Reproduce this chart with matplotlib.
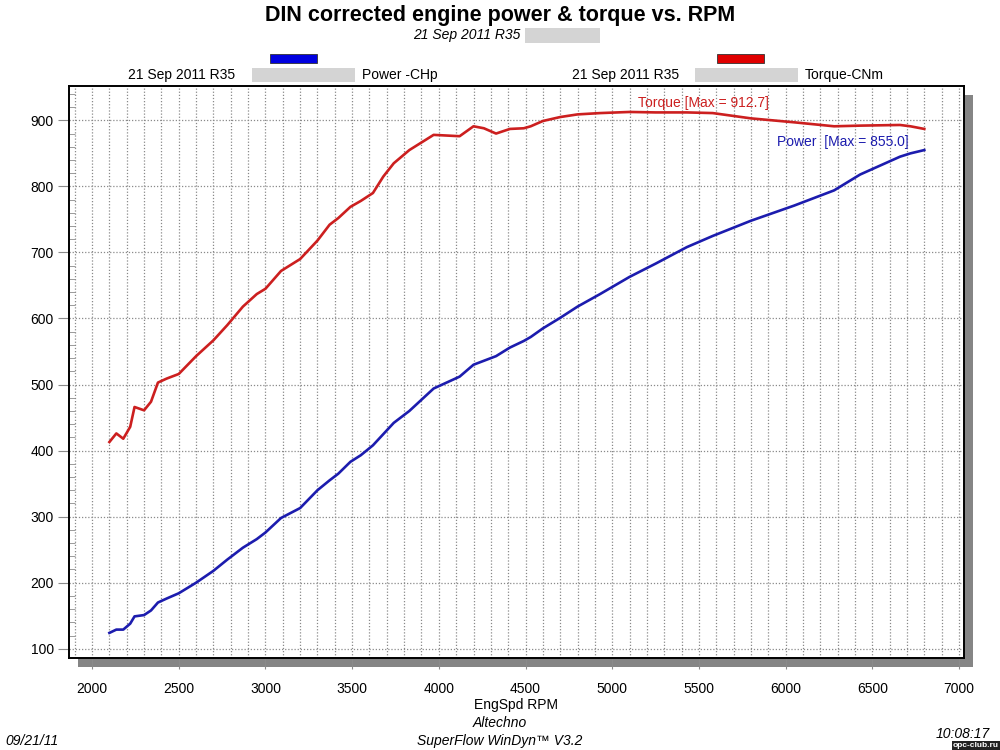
import matplotlib
matplotlib.use('Agg')
import matplotlib.pyplot as plt
from matplotlib.patches import Rectangle
from matplotlib.ticker import MultipleLocator

plt.rcParams['font.family'] = ['Liberation Sans', 'DejaVu Sans']

# Data
rpm = [2100, 2140, 2180, 2220, 2245, 2300, 2340, 2380, 2430, 2500,
       2600, 2700, 2780, 2870, 2950, 3000, 3090, 3200, 3300, 3370,
       3420, 3490, 3550, 3620, 3680, 3740, 3830, 3970, 4120, 4200,
       4260, 4330, 4410, 4490, 4530, 4600, 4700, 4800, 4930, 5100,
       5250, 5430, 5580, 5800, 6050, 6280, 6430, 6660, 6720, 6800]
torque = [413, 426, 418, 436, 466, 461, 474, 503, 509, 516,
          543, 567, 590, 618, 637, 645, 672, 690, 718, 742,
          752, 769, 778, 790, 815, 835, 855, 878, 876, 891,
          888, 880, 887, 888, 891, 899, 905, 909, 911, 912.7,
          912, 912, 911, 903, 897, 891, 892, 893, 891, 887]
power = [124, 129, 129, 138, 149, 151, 158, 170, 176, 184,
         200, 218, 235, 253, 266, 276, 298, 313, 340, 355,
         365, 383, 393, 408, 425, 442, 460, 494, 512, 530,
         536, 543, 556, 566, 572, 585, 601, 618, 637, 663,
         683, 708, 725, 748, 771, 794, 818, 845, 850, 855]

y_ticks = [100, 200, 300, 400, 500, 600, 700, 800, 900]
x_ticks = [2000, 2500, 3000, 3500, 4000, 4500, 5000, 5500, 6000, 6500, 7000]

red = '#cc1f1f'
blue = '#1c1cae'
blur = '#d4d4d4'

fig = plt.figure(figsize=(10, 7.5), dpi=100)

# axes box in pixels: left 69, right 964, top 86, bottom 658
ax = fig.add_axes([0.069, 1 - 658 / 750, 0.895, (658 - 86) / 750])

# drop shadow behind the plot box
fig.patches.append(Rectangle((78 / 1000, 1 - 667 / 750), 0.895, (658 - 86) / 750,
                             transform=fig.transFigure, facecolor='#858585',
                             edgecolor='none', zorder=0))
ax.set_zorder(1)

ax.plot(rpm, torque, color=red, lw=1.9, zorder=3)
ax.plot(rpm, power, color=blue, lw=1.9, zorder=3)

ax.set_xlim(1867, 7029)
ax.set_ylim(86, 952)
ax.set_xticks(x_ticks)
ax.set_yticks(y_ticks)
ax.xaxis.set_minor_locator(MultipleLocator(100))
ax.yaxis.set_minor_locator(MultipleLocator(20))
ax.grid(True, which='major', axis='y', color='#8a8a8a', ls=(0, (1, 1.5)), lw=0.9)
ax.grid(True, which='both', axis='x', color='#8a8a8a', ls=(0, (1, 1.5)), lw=0.9)
ax.tick_params(axis='both', which='major', direction='out', length=8,
               color='#8a8a8a', labelsize=10)
ax.tick_params(axis='x', which='major', pad=9)
ax.tick_params(axis='y', which='major', pad=3)
ax.tick_params(axis='x', which='minor', length=0)
ax.tick_params(axis='y', which='minor', direction='in', length=4, color='#8a8a8a')
for s in ax.spines.values():
    s.set_linewidth(1.4)
    s.set_color('black')
ax.set_xlabel('EngSpd RPM', fontsize=10, labelpad=2)

ax.text(5149, 926, 'Torque [Max = 912.7]', color=red, fontsize=10,
        ha='left', va='center', zorder=4)
ax.text(5950, 867, 'Power  [Max = 855.0]', color=blue, fontsize=10,
        ha='left', va='center', zorder=4)

# titles
fig.text(0.5, 1 - 16 / 750, 'DIN corrected engine power & torque vs. RPM',
         ha='center', va='center', fontsize=15.5, fontweight='bold')
fig.text(0.52, 1 - 35 / 750, '21 Sep 2011 R35', ha='right', va='center',
         fontsize=10, style='italic')
fig.patches.append(Rectangle((0.525, 1 - 43 / 750), 0.075, 15 / 750,
                             transform=fig.transFigure, facecolor=blur,
                             edgecolor='none'))

# legend blocks
for x0, col in [(270, '#0000e0'), (717, '#e00000')]:
    fig.patches.append(Rectangle((x0 / 1000, 1 - 63 / 750), 47 / 1000, 9 / 750,
                                 transform=fig.transFigure, facecolor=col,
                                 edgecolor='#333333', lw=0.6))
for x0, bx, lab in [(128, 252, 'Power -CHp'), (572, 695, 'Torque-CNm')]:
    fig.text(x0 / 1000, 1 - 75 / 750, '21 Sep 2011 R35', ha='left',
             va='center', fontsize=10)
    fig.patches.append(Rectangle((bx / 1000, 1 - 82 / 750), 103 / 1000, 14 / 750,
                                 transform=fig.transFigure, facecolor=blur,
                                 edgecolor='none'))
    fig.text((bx + 110) / 1000, 1 - 75 / 750, lab, ha='left', va='center',
             fontsize=10)

# footer
fig.text(0.5, 1 - 723 / 750, 'Altechno', ha='center', va='center',
         fontsize=10, style='italic')
fig.text(0.5, 1 - 741 / 750, 'SuperFlow WinDyn\u2122 V3.2', ha='center',
         va='center', fontsize=10, style='italic')
fig.text(0.005, 1 - 741 / 750, '09/21/11', ha='left', va='center',
         fontsize=10, style='italic')
fig.text(0.99, 1 - 734 / 750, '10:08:17', ha='right', va='center',
         fontsize=10, style='italic')
fig.text(0.999, 0.001, 'opc-club.ru', ha='right', va='bottom', fontsize=6,
         color='white', fontweight='bold',
         bbox=dict(boxstyle='square,pad=0.15', facecolor='#222222', edgecolor='none'))

fig.savefig('out.png', dpi=100)
